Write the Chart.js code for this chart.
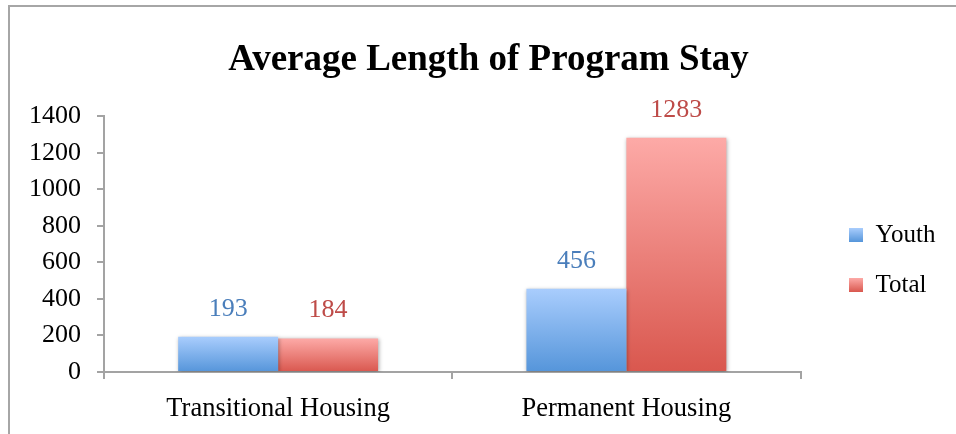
<!DOCTYPE html>
<html>
<head>
<meta charset="utf-8">
<script src="https://cdn.jsdelivr.net/npm/chart.js@4/dist/chart.umd.min.js"></script>
<style>
  html, body { margin: 0; padding: 0; background: #ffffff; }
  #wrap { width: 956px; height: 434px; position: relative; }
  canvas { display: block; }
</style>
</head>
<body>
<div id="wrap"><canvas id="c" width="956" height="434"></canvas></div>
<script>
// ---- data ----
const chartTitle = 'Average Length of Program Stay';
const categories = ['Transitional Housing', 'Permanent Housing'];
const seriesNames = ['Youth', 'Total'];
const youthValues = [193, 456];
const totalValues = [184, 1283];
const yMin = 0;
const yMax = 1400;
const yStep = 200;

// ---- styles ----
const SERIF = "'Liberation Serif', 'Times New Roman', serif";
const blueTop = '#a9cdfd', blueBot = '#5595da', blueText = '#4a7ebb';
const redTop = '#fdaaa7', redBot = '#d9574e', redText = '#be4b48';
const axisColor = '#a3a3a3';

function barGradient(top, bot) {
  return (ctx) => {
    const chart = ctx.chart;
    if (!chart.chartArea || ctx.type !== 'data' || !chart.scales.y) return bot;
    const ys = chart.scales.y;
    const yTop = ys.getPixelForValue(ctx.raw);
    const yBot = ys.getPixelForValue(0);
    const g = chart.ctx.createLinearGradient(0, yTop, 0, yBot);
    g.addColorStop(0, top);
    g.addColorStop(1, bot);
    return g;
  };
}

const LEGEND_PAD = 25;
const LEGEND_FONT = 25;
const LEGEND_BOX = 14;

const layoutTweaks = {
  id: 'layoutTweaks',
  afterLayout(chart) {
    const lg = chart.legend;
    if (lg) {
      const dx = 824 - lg.left;
      lg.left += dx; lg.right += dx;
      const dy = 197.5 - lg.top;
      lg.top += dy; lg.bottom += dy;
    }
    const tb = chart.titleBlock;
    if (tb) {
      const cx = (tb.left + tb.right) / 2;
      const dx = 488.5 - cx;
      tb.left += dx; tb.right += dx;
      tb.top += 1; tb.bottom += 1;
    }
  },
  beforeDraw(chart) {
    const c = chart.ctx;
    c.save();
    c.fillStyle = '#a6a6a6';
    c.fillRect(8, 5, 948, 2);
    c.fillRect(8, 5, 2, 429);
    c.restore();
  },
  beforeDatasetsDraw(chart) {
    const c = chart.ctx;
    c.save();
    c.shadowColor = 'rgba(0,0,0,0.35)';
    c.shadowBlur = 4;
    c.shadowOffsetX = 1;
    c.shadowOffsetY = 1;
  },
  afterDatasetsDraw(chart) {
    const c = chart.ctx;
    c.restore();
    c.save();
    c.font = `26px ${SERIF}`;
    c.textAlign = 'center';
    c.textBaseline = 'alphabetic';
    chart.data.datasets.forEach((ds, di) => {
      const meta = chart.getDatasetMeta(di);
      c.fillStyle = di === 0 ? blueText : redText;
      meta.data.forEach((el, i) => {
        c.fillText(String(ds.data[i]), el.x, el.y - 21);
      });
    });
    c.restore();
  }
};

new Chart(document.getElementById('c'), {
  type: 'bar',
  data: {
    labels: categories,
    datasets: [
      { label: seriesNames[0], data: youthValues, backgroundColor: barGradient(blueTop, blueBot), borderWidth: 0 },
      { label: seriesNames[1], data: totalValues, backgroundColor: barGradient(redTop, redBot), borderWidth: 0 }
    ]
  },
  options: {
    responsive: false,
    animation: false,
    events: [],
    layout: { padding: { left: 0, right: 34, top: 0, bottom: 0 } },
    datasets: { bar: { categoryPercentage: 0.574, barPercentage: 1.0 } },
    plugins: {
      title: {
        display: true,
        text: chartTitle,
        color: '#000000',
        font: { family: SERIF, size: 37, weight: 'bold', lineHeight: 1.2 },
        padding: { top: 37, bottom: 35 }
      },
      legend: {
        display: true,
        position: 'right',
        align: 'start',
        labels: {
          color: '#000000',
          font: { family: SERIF, size: LEGEND_FONT },
          boxWidth: LEGEND_BOX,
          boxHeight: LEGEND_BOX,
          padding: LEGEND_PAD,
          generateLabels(chart) {
            const items = Chart.defaults.plugins.legend.labels.generateLabels(chart);
            const lg = chart.legend;
            const cols = [[blueTop, blueBot], [redTop, redBot]];
            items.forEach((it, i) => {
              if (lg) {
                const y0 = lg.top + LEGEND_PAD + i * (LEGEND_FONT + LEGEND_PAD) + (LEGEND_FONT - LEGEND_BOX) / 2;
                const g = chart.ctx.createLinearGradient(0, y0, 0, y0 + LEGEND_BOX);
                g.addColorStop(0, cols[i][0]);
                g.addColorStop(1, cols[i][1]);
                it.fillStyle = g;
              } else {
                it.fillStyle = cols[i][1];
              }
              it.lineWidth = 0;
              it.strokeStyle = 'rgba(0,0,0,0)';
            });
            return items;
          }
        }
      },
      tooltip: { enabled: false }
    },
    scales: {
      x: {
        grid: { display: true, drawOnChartArea: false, drawTicks: true, tickLength: 7, color: axisColor, lineWidth: 2, offset: true },
        border: { display: true, color: axisColor, width: 2 },
        ticks: { color: '#000000', font: { family: SERIF, size: 26.5 }, padding: 14, maxRotation: 0 },
        afterFit(scale) { scale.height = 62; }
      },
      y: {
        min: yMin,
        max: yMax,
        grid: { display: true, drawOnChartArea: false, drawTicks: true, tickLength: 7, color: axisColor, lineWidth: 2 },
        border: { display: true, color: axisColor, width: 2 },
        ticks: { stepSize: yStep, color: '#000000', font: { family: SERIF, size: 26 }, padding: 16,
                 callback: (v) => String(v) },
        afterFit(scale) { scale.width = 104; }
      }
    }
  },
  plugins: [layoutTweaks]
});
</script>
</body>
</html>
